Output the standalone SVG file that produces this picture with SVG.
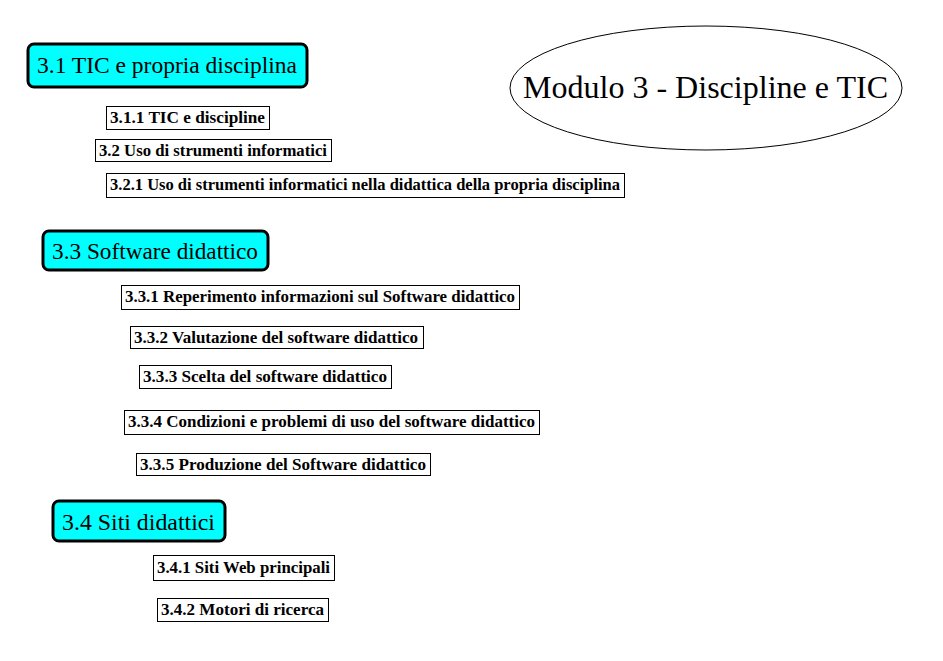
<svg xmlns="http://www.w3.org/2000/svg" width="943" height="661" viewBox="0 0 943 661">
<style>
.t{fill:#00ffff;stroke:#000;stroke-width:3}
.tt{font-family:"Liberation Serif",serif;font-size:24px;fill:#000}
.b{fill:#fff;stroke:#000;stroke-width:1}
.bt{font-family:"Liberation Serif",serif;font-size:16px;font-weight:bold;fill:#000}
</style>
<rect width="943" height="661" fill="#fff"/>
<g id="root">
<ellipse cx="706" cy="88" rx="196" ry="62" fill="#fff" stroke="#000" stroke-width="1"/>
<text x="523" y="98" font-family="Liberation Serif, serif" font-size="32" textLength="365" lengthAdjust="spacingAndGlyphs">Modulo 3 - Discipline e TIC</text>
</g>
<g id="connectors"></g>
<g id="n31"><rect class="t" x="28" y="44" width="279" height="43" rx="6"/><text class="tt" x="37" y="73" textLength="260" lengthAdjust="spacingAndGlyphs">3.1 TIC e propria disciplina</text></g>
<g id="n311"><rect class="b" x="106.5" y="106.5" width="163" height="23"/><text class="bt" x="110" y="123" textLength="155" lengthAdjust="spacingAndGlyphs">3.1.1 TIC e discipline</text></g>
<g id="n32"><rect class="b" x="95.5" y="139.5" width="236" height="22"/><text class="bt" x="99" y="156" textLength="228" lengthAdjust="spacingAndGlyphs">3.2 Uso di strumenti informatici</text></g>
<g id="n321"><rect class="b" x="106.5" y="173.5" width="518" height="24"/><text class="bt" x="110" y="190" textLength="510" lengthAdjust="spacingAndGlyphs">3.2.1 Uso di strumenti informatici nella didattica della propria disciplina</text></g>
<g id="n33"><rect class="t" x="43" y="231" width="225" height="39" rx="6"/><text class="tt" x="52" y="259" textLength="206" lengthAdjust="spacingAndGlyphs">3.3 Software didattico</text></g>
<g id="n331"><rect class="b" x="121.5" y="285.5" width="398" height="24"/><text class="bt" x="125" y="302" textLength="390" lengthAdjust="spacingAndGlyphs">3.3.1 Reperimento informazioni sul Software didattico</text></g>
<g id="n332"><rect class="b" x="130.5" y="326.5" width="293" height="22"/><text class="bt" x="134" y="343" textLength="284" lengthAdjust="spacingAndGlyphs">3.3.2 Valutazione del software didattico</text></g>
<g id="n333"><rect class="b" x="139.5" y="365.5" width="252" height="23"/><text class="bt" x="143" y="382" textLength="244" lengthAdjust="spacingAndGlyphs">3.3.3 Scelta del software didattico</text></g>
<g id="n334"><rect class="b" x="124.5" y="410.5" width="415" height="24"/><text class="bt" x="128" y="427" textLength="407" lengthAdjust="spacingAndGlyphs">3.3.4 Condizioni e problemi di uso del software didattico</text></g>
<g id="n335"><rect class="b" x="136.5" y="453.5" width="294" height="22"/><text class="bt" x="140" y="470" textLength="286" lengthAdjust="spacingAndGlyphs">3.3.5 Produzione del Software didattico</text></g>
<g id="n34"><rect class="t" x="53" y="501" width="172" height="40" rx="6"/><text class="tt" x="62" y="530" textLength="153" lengthAdjust="spacingAndGlyphs">3.4 Siti didattici</text></g>
<g id="n341"><rect class="b" x="153.5" y="555.5" width="181" height="25"/><text class="bt" x="157" y="573" textLength="173" lengthAdjust="spacingAndGlyphs">3.4.1 Siti Web principali</text></g>
<g id="n342"><rect class="b" x="157.5" y="598.5" width="171" height="23"/><text class="bt" x="161" y="615" textLength="163" lengthAdjust="spacingAndGlyphs">3.4.2 Motori di ricerca</text></g>
</svg>
